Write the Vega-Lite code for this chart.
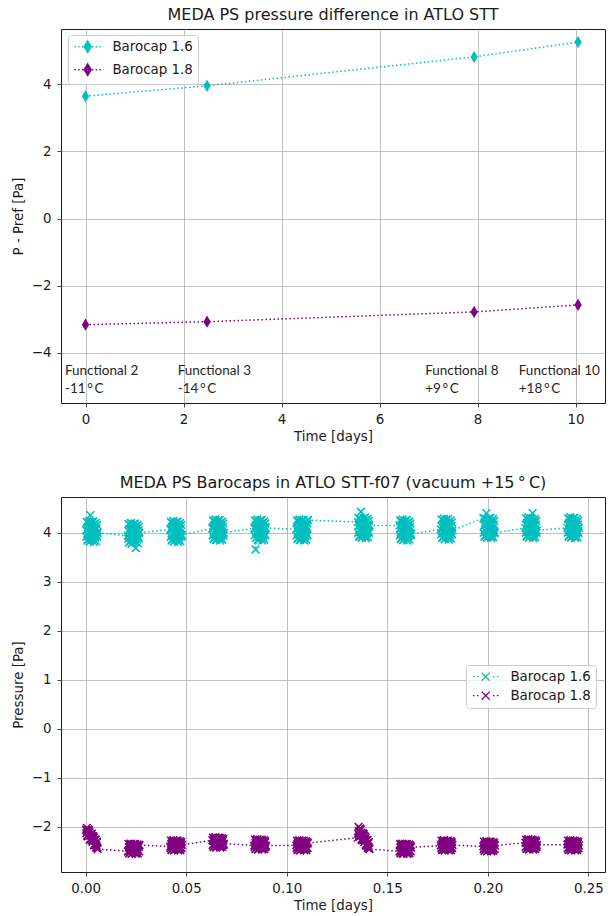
{
"$schema": "https://vega.github.io/schema/vega-lite/v6.json",
"background": "white",
"padding": {"left": 10, "top": 6, "right": 4, "bottom": 4},
"spacing": 30,
"config": {
  "font": "DejaVu Sans",
  "view": {"stroke": "#1a1a1a", "strokeWidth": 1},
  "axis": {"domain": false, "grid": true, "gridColor": "#b0b0b0", "gridWidth": 0.8, "tickColor": "#1a1a1a", "tickSize": 4, "tickWidth": 0.8, "labelFont": "DejaVu Sans", "labelFontSize": 13.4, "labelColor": "#1a1a1a", "labelPadding": 5, "titleFont": "DejaVu Sans", "titleFontSize": 13.4, "titleFontWeight": "normal", "titleColor": "#1a1a1a"},
  "axisY": {"titlePadding": 6, "labelPadding": 6},
  "axisX": {"titlePadding": 4},
  "title": {"fontSize": 16, "fontWeight": "normal", "color": "#1a1a1a", "offset": 6, "font": "DejaVu Sans"},
  "legend": {"labelFont": "DejaVu Sans", "labelFontSize": 13.4, "labelColor": "#1a1a1a", "fillColor": "rgba(255,255,255,0.8)", "strokeColor": "#cccccc", "cornerRadius": 3, "padding": 5, "rowPadding": 4}
},
"resolve": {"scale": {"color": "independent"}, "legend": {"color": "independent"}},
"datasets": {
  "a": [
    {"t":0.0002,"p":4.05},{"t":0.0005,"p":4.22},{"t":0.0008,"p":3.84},{"t":0.0011,"p":4.12},{"t":0.0014,"p":3.94},{"t":0.0017,"p":4.24},{"t":0.0020,"p":3.82},{"t":0.0023,"p":4.36},{"t":0.0026,"p":4.18},{"t":0.0029,"p":3.88},{"t":0.0032,"p":4.14},{"t":0.0035,"p":3.98},{"t":0.0038,"p":4.23},{"t":0.0041,"p":3.81},{"t":0.0044,"p":4.08},{"t":0.0047,"p":3.90},{"t":0.0050,"p":4.20},{"t":0.0053,"p":3.94},{"t":0.0056,"p":4.16},{"t":0.0059,"p":4.00},
    {"t":0.0210,"p":3.94},{"t":0.0213,"p":4.18},{"t":0.0216,"p":3.80},{"t":0.0219,"p":4.08},{"t":0.0222,"p":3.90},{"t":0.0225,"p":4.20},{"t":0.0228,"p":3.78},{"t":0.0231,"p":4.00},{"t":0.0234,"p":4.14},{"t":0.0237,"p":3.84},{"t":0.0240,"p":4.10},{"t":0.0243,"p":3.94},{"t":0.0246,"p":4.19},{"t":0.0249,"p":3.69},{"t":0.0252,"p":4.04},{"t":0.0255,"p":3.86},{"t":0.0258,"p":4.16},{"t":0.0261,"p":3.90},{"t":0.0264,"p":4.12},{"t":0.0267,"p":4.00},
    {"t":0.0421,"p":4.07},{"t":0.0424,"p":4.22},{"t":0.0427,"p":3.84},{"t":0.0430,"p":4.12},{"t":0.0433,"p":3.94},{"t":0.0436,"p":4.24},{"t":0.0439,"p":3.82},{"t":0.0442,"p":4.04},{"t":0.0445,"p":4.18},{"t":0.0448,"p":3.88},{"t":0.0451,"p":4.14},{"t":0.0454,"p":3.98},{"t":0.0457,"p":4.23},{"t":0.0460,"p":3.81},{"t":0.0463,"p":4.08},{"t":0.0466,"p":3.90},{"t":0.0469,"p":4.20},{"t":0.0472,"p":3.94},{"t":0.0475,"p":4.16},{"t":0.0478,"p":3.96},
    {"t":0.0630,"p":4.09},{"t":0.0633,"p":4.25},{"t":0.0636,"p":3.87},{"t":0.0639,"p":4.15},{"t":0.0642,"p":3.97},{"t":0.0645,"p":4.27},{"t":0.0648,"p":3.85},{"t":0.0651,"p":4.07},{"t":0.0654,"p":4.21},{"t":0.0657,"p":3.91},{"t":0.0660,"p":4.17},{"t":0.0663,"p":4.01},{"t":0.0666,"p":4.26},{"t":0.0669,"p":3.84},{"t":0.0672,"p":4.11},{"t":0.0675,"p":3.93},{"t":0.0678,"p":4.23},{"t":0.0681,"p":3.97},{"t":0.0684,"p":4.19},{"t":0.0687,"p":4.00},
    {"t":0.0839,"p":4.09},{"t":0.0842,"p":4.25},{"t":0.0845,"p":3.66},{"t":0.0848,"p":4.15},{"t":0.0851,"p":3.97},{"t":0.0854,"p":4.27},{"t":0.0857,"p":3.85},{"t":0.0860,"p":4.07},{"t":0.0863,"p":4.21},{"t":0.0866,"p":3.91},{"t":0.0869,"p":4.17},{"t":0.0872,"p":4.01},{"t":0.0875,"p":4.26},{"t":0.0878,"p":3.84},{"t":0.0881,"p":4.11},{"t":0.0884,"p":3.93},{"t":0.0887,"p":4.23},{"t":0.0890,"p":3.97},{"t":0.0893,"p":4.19},{"t":0.0896,"p":4.10},
    {"t":0.1048,"p":4.07},{"t":0.1051,"p":4.25},{"t":0.1054,"p":3.87},{"t":0.1057,"p":4.15},{"t":0.1060,"p":3.97},{"t":0.1063,"p":4.27},{"t":0.1066,"p":3.85},{"t":0.1069,"p":4.07},{"t":0.1072,"p":4.21},{"t":0.1075,"p":3.91},{"t":0.1078,"p":4.17},{"t":0.1081,"p":4.01},{"t":0.1084,"p":4.26},{"t":0.1087,"p":3.84},{"t":0.1090,"p":4.11},{"t":0.1093,"p":3.93},{"t":0.1096,"p":4.23},{"t":0.1099,"p":3.97},{"t":0.1102,"p":4.19},{"t":0.1105,"p":4.26},
    {"t":0.1354,"p":4.22},{"t":0.1357,"p":4.30},{"t":0.1360,"p":3.92},{"t":0.1363,"p":4.20},{"t":0.1366,"p":4.02},{"t":0.1369,"p":4.43},{"t":0.1372,"p":3.90},{"t":0.1375,"p":4.12},{"t":0.1378,"p":4.26},{"t":0.1381,"p":3.96},{"t":0.1384,"p":4.22},{"t":0.1387,"p":4.06},{"t":0.1390,"p":4.31},{"t":0.1393,"p":3.89},{"t":0.1396,"p":4.16},{"t":0.1399,"p":3.98},{"t":0.1402,"p":4.28},{"t":0.1405,"p":4.02},{"t":0.1408,"p":4.24},{"t":0.1411,"p":4.15},
    {"t":0.1561,"p":4.15},{"t":0.1564,"p":4.25},{"t":0.1567,"p":3.87},{"t":0.1570,"p":4.15},{"t":0.1573,"p":3.97},{"t":0.1576,"p":4.27},{"t":0.1579,"p":3.85},{"t":0.1582,"p":4.07},{"t":0.1585,"p":4.21},{"t":0.1588,"p":3.91},{"t":0.1591,"p":4.17},{"t":0.1594,"p":4.01},{"t":0.1597,"p":4.26},{"t":0.1600,"p":3.84},{"t":0.1603,"p":4.11},{"t":0.1606,"p":3.93},{"t":0.1609,"p":4.23},{"t":0.1612,"p":3.97},{"t":0.1615,"p":4.19},{"t":0.1618,"p":3.98},
    {"t":0.1767,"p":4.07},{"t":0.1770,"p":4.27},{"t":0.1773,"p":3.89},{"t":0.1776,"p":4.17},{"t":0.1779,"p":3.99},{"t":0.1782,"p":4.29},{"t":0.1785,"p":3.87},{"t":0.1788,"p":4.09},{"t":0.1791,"p":4.23},{"t":0.1794,"p":3.93},{"t":0.1797,"p":4.19},{"t":0.1800,"p":4.03},{"t":0.1803,"p":4.28},{"t":0.1806,"p":3.86},{"t":0.1809,"p":4.13},{"t":0.1812,"p":3.95},{"t":0.1815,"p":4.25},{"t":0.1818,"p":3.99},{"t":0.1821,"p":4.21},{"t":0.1824,"p":4.05},
    {"t":0.1978,"p":4.30},{"t":0.1981,"p":4.30},{"t":0.1984,"p":3.92},{"t":0.1987,"p":4.20},{"t":0.1990,"p":4.02},{"t":0.1993,"p":4.40},{"t":0.1996,"p":3.90},{"t":0.1999,"p":4.12},{"t":0.2002,"p":4.26},{"t":0.2005,"p":3.96},{"t":0.2008,"p":4.22},{"t":0.2011,"p":4.06},{"t":0.2014,"p":4.31},{"t":0.2017,"p":3.89},{"t":0.2020,"p":4.16},{"t":0.2023,"p":3.98},{"t":0.2026,"p":4.28},{"t":0.2029,"p":4.02},{"t":0.2032,"p":4.24},{"t":0.2035,"p":4.00},
    {"t":0.2187,"p":4.10},{"t":0.2190,"p":4.30},{"t":0.2193,"p":3.92},{"t":0.2196,"p":4.20},{"t":0.2199,"p":4.02},{"t":0.2202,"p":4.32},{"t":0.2205,"p":3.90},{"t":0.2208,"p":4.12},{"t":0.2211,"p":4.26},{"t":0.2214,"p":3.96},{"t":0.2217,"p":4.22},{"t":0.2220,"p":4.06},{"t":0.2223,"p":4.40},{"t":0.2226,"p":3.89},{"t":0.2229,"p":4.16},{"t":0.2232,"p":3.98},{"t":0.2235,"p":4.28},{"t":0.2238,"p":4.02},{"t":0.2241,"p":4.24},{"t":0.2244,"p":4.05},
    {"t":0.2396,"p":4.10},{"t":0.2399,"p":4.30},{"t":0.2402,"p":3.92},{"t":0.2405,"p":4.20},{"t":0.2408,"p":4.02},{"t":0.2411,"p":4.32},{"t":0.2414,"p":3.90},{"t":0.2417,"p":4.12},{"t":0.2420,"p":4.26},{"t":0.2423,"p":3.96},{"t":0.2426,"p":4.22},{"t":0.2429,"p":4.06},{"t":0.2432,"p":4.31},{"t":0.2435,"p":3.89},{"t":0.2438,"p":4.16},{"t":0.2441,"p":3.98},{"t":0.2444,"p":4.28},{"t":0.2447,"p":4.02},{"t":0.2450,"p":4.24},{"t":0.2453,"p":4.10},
    {"t":0.00035,"p":3.92},{"t":0.00065,"p":4.07},{"t":0.00095,"p":3.86},{"t":0.00125,"p":4.20},{"t":0.00155,"p":4.00},{"t":0.00185,"p":4.15},{"t":0.00215,"p":3.83},{"t":0.00245,"p":4.11},{"t":0.00275,"p":3.96},{"t":0.00305,"p":4.22},{"t":0.00335,"p":3.90},{"t":0.00365,"p":4.05},{"t":0.00395,"p":4.17},{"t":0.00425,"p":3.85},{"t":0.00455,"p":4.13},{"t":0.00485,"p":3.99},{"t":0.00515,"p":3.83},{"t":0.00545,"p":4.09},{"t":0.00575,"p":3.92},
    {"t":0.02115,"p":3.88},{"t":0.02145,"p":4.03},{"t":0.02175,"p":3.82},{"t":0.02205,"p":4.16},{"t":0.02235,"p":3.96},{"t":0.02265,"p":4.11},{"t":0.02295,"p":3.79},{"t":0.02325,"p":4.07},{"t":0.02355,"p":3.92},{"t":0.02385,"p":4.18},{"t":0.02415,"p":3.86},{"t":0.02445,"p":4.01},{"t":0.02475,"p":4.13},{"t":0.02505,"p":3.81},{"t":0.02535,"p":4.09},{"t":0.02565,"p":3.95},{"t":0.02595,"p":3.79},{"t":0.02625,"p":4.05},{"t":0.02655,"p":3.88},
    {"t":0.04225,"p":3.92},{"t":0.04255,"p":4.07},{"t":0.04285,"p":3.86},{"t":0.04315,"p":4.20},{"t":0.04345,"p":4.00},{"t":0.04375,"p":4.15},{"t":0.04405,"p":3.83},{"t":0.04435,"p":4.11},{"t":0.04465,"p":3.96},{"t":0.04495,"p":4.22},{"t":0.04525,"p":3.90},{"t":0.04555,"p":4.05},{"t":0.04585,"p":4.17},{"t":0.04615,"p":3.85},{"t":0.04645,"p":4.13},{"t":0.04675,"p":3.99},{"t":0.04705,"p":3.83},{"t":0.04735,"p":4.09},{"t":0.04765,"p":3.92},
    {"t":0.06315,"p":3.95},{"t":0.06345,"p":4.10},{"t":0.06375,"p":3.89},{"t":0.06405,"p":4.23},{"t":0.06435,"p":4.03},{"t":0.06465,"p":4.18},{"t":0.06495,"p":3.86},{"t":0.06525,"p":4.14},{"t":0.06555,"p":3.99},{"t":0.06585,"p":4.25},{"t":0.06615,"p":3.93},{"t":0.06645,"p":4.08},{"t":0.06675,"p":4.20},{"t":0.06705,"p":3.88},{"t":0.06735,"p":4.16},{"t":0.06765,"p":4.02},{"t":0.06795,"p":3.86},{"t":0.06825,"p":4.12},{"t":0.06855,"p":3.95},
    {"t":0.08405,"p":3.95},{"t":0.08435,"p":4.10},{"t":0.08465,"p":3.89},{"t":0.08495,"p":4.23},{"t":0.08525,"p":4.03},{"t":0.08555,"p":4.18},{"t":0.08585,"p":3.86},{"t":0.08615,"p":4.14},{"t":0.08645,"p":3.99},{"t":0.08675,"p":4.25},{"t":0.08705,"p":3.93},{"t":0.08735,"p":4.08},{"t":0.08765,"p":4.20},{"t":0.08795,"p":3.88},{"t":0.08825,"p":4.16},{"t":0.08855,"p":4.02},{"t":0.08885,"p":3.86},{"t":0.08915,"p":4.12},{"t":0.08945,"p":3.95},
    {"t":0.10495,"p":3.95},{"t":0.10525,"p":4.10},{"t":0.10555,"p":3.89},{"t":0.10585,"p":4.23},{"t":0.10615,"p":4.03},{"t":0.10645,"p":4.18},{"t":0.10675,"p":3.86},{"t":0.10705,"p":4.14},{"t":0.10735,"p":3.99},{"t":0.10765,"p":4.25},{"t":0.10795,"p":3.93},{"t":0.10825,"p":4.08},{"t":0.10855,"p":4.20},{"t":0.10885,"p":3.88},{"t":0.10915,"p":4.16},{"t":0.10945,"p":4.02},{"t":0.10975,"p":3.86},{"t":0.11005,"p":4.12},{"t":0.11035,"p":3.95},
    {"t":0.13555,"p":4.00},{"t":0.13585,"p":4.15},{"t":0.13615,"p":3.94},{"t":0.13645,"p":4.28},{"t":0.13675,"p":4.08},{"t":0.13705,"p":4.23},{"t":0.13735,"p":3.91},{"t":0.13765,"p":4.19},{"t":0.13795,"p":4.04},{"t":0.13825,"p":4.30},{"t":0.13855,"p":3.98},{"t":0.13885,"p":4.13},{"t":0.13915,"p":4.25},{"t":0.13945,"p":3.93},{"t":0.13975,"p":4.21},{"t":0.14005,"p":4.07},{"t":0.14035,"p":3.91},{"t":0.14065,"p":4.17},{"t":0.14095,"p":4.00},
    {"t":0.15625,"p":3.95},{"t":0.15655,"p":4.10},{"t":0.15685,"p":3.89},{"t":0.15715,"p":4.23},{"t":0.15745,"p":4.03},{"t":0.15775,"p":4.18},{"t":0.15805,"p":3.86},{"t":0.15835,"p":4.14},{"t":0.15865,"p":3.99},{"t":0.15895,"p":4.25},{"t":0.15925,"p":3.93},{"t":0.15955,"p":4.08},{"t":0.15985,"p":4.20},{"t":0.16015,"p":3.88},{"t":0.16045,"p":4.16},{"t":0.16075,"p":4.02},{"t":0.16105,"p":3.86},{"t":0.16135,"p":4.12},{"t":0.16165,"p":3.95},
    {"t":0.17685,"p":3.97},{"t":0.17715,"p":4.12},{"t":0.17745,"p":3.91},{"t":0.17775,"p":4.25},{"t":0.17805,"p":4.05},{"t":0.17835,"p":4.20},{"t":0.17865,"p":3.88},{"t":0.17895,"p":4.16},{"t":0.17925,"p":4.01},{"t":0.17955,"p":4.27},{"t":0.17985,"p":3.95},{"t":0.18015,"p":4.10},{"t":0.18045,"p":4.22},{"t":0.18075,"p":3.90},{"t":0.18105,"p":4.18},{"t":0.18135,"p":4.04},{"t":0.18165,"p":3.88},{"t":0.18195,"p":4.14},{"t":0.18225,"p":3.97},
    {"t":0.19795,"p":4.00},{"t":0.19825,"p":4.15},{"t":0.19855,"p":3.94},{"t":0.19885,"p":4.28},{"t":0.19915,"p":4.08},{"t":0.19945,"p":4.23},{"t":0.19975,"p":3.91},{"t":0.20005,"p":4.19},{"t":0.20035,"p":4.04},{"t":0.20065,"p":4.30},{"t":0.20095,"p":3.98},{"t":0.20125,"p":4.13},{"t":0.20155,"p":4.25},{"t":0.20185,"p":3.93},{"t":0.20215,"p":4.21},{"t":0.20245,"p":4.07},{"t":0.20275,"p":3.91},{"t":0.20305,"p":4.17},{"t":0.20335,"p":4.00},
    {"t":0.21885,"p":4.00},{"t":0.21915,"p":4.15},{"t":0.21945,"p":3.94},{"t":0.21975,"p":4.28},{"t":0.22005,"p":4.08},{"t":0.22035,"p":4.23},{"t":0.22065,"p":3.91},{"t":0.22095,"p":4.19},{"t":0.22125,"p":4.04},{"t":0.22155,"p":4.30},{"t":0.22185,"p":3.98},{"t":0.22215,"p":4.13},{"t":0.22245,"p":4.25},{"t":0.22275,"p":3.93},{"t":0.22305,"p":4.21},{"t":0.22335,"p":4.07},{"t":0.22365,"p":3.91},{"t":0.22395,"p":4.17},{"t":0.22425,"p":4.00},
    {"t":0.23975,"p":4.00},{"t":0.24005,"p":4.15},{"t":0.24035,"p":3.94},{"t":0.24065,"p":4.28},{"t":0.24095,"p":4.08},{"t":0.24125,"p":4.23},{"t":0.24155,"p":3.91},{"t":0.24185,"p":4.19},{"t":0.24215,"p":4.04},{"t":0.24245,"p":4.30},{"t":0.24275,"p":3.98},{"t":0.24305,"p":4.13},{"t":0.24335,"p":4.25},{"t":0.24365,"p":3.93},{"t":0.24395,"p":4.21},{"t":0.24425,"p":4.07},{"t":0.24455,"p":3.91},{"t":0.24485,"p":4.17},{"t":0.24515,"p":4.00}
  ],
  "b": [
    {"t":0.0002,"p":-2.06},{"t":0.0005,"p":-2.02},{"t":0.0008,"p":-2.18},{"t":0.0011,"p":-2.09},{"t":0.0014,"p":-2.17},{"t":0.0017,"p":-2.07},{"t":0.0020,"p":-2.26},{"t":0.0023,"p":-2.18},{"t":0.0026,"p":-2.15},{"t":0.0029,"p":-2.28},{"t":0.0032,"p":-2.19},{"t":0.0035,"p":-2.27},{"t":0.0038,"p":-2.19},{"t":0.0041,"p":-2.37},{"t":0.0044,"p":-2.28},{"t":0.0047,"p":-2.37},{"t":0.0050,"p":-2.26},{"t":0.0053,"p":-2.38},{"t":0.0056,"p":-2.30},{"t":0.0059,"p":-2.45},
    {"t":0.0210,"p":-2.50},{"t":0.0213,"p":-2.35},{"t":0.0216,"p":-2.54},{"t":0.0219,"p":-2.40},{"t":0.0222,"p":-2.49},{"t":0.0225,"p":-2.34},{"t":0.0228,"p":-2.55},{"t":0.0231,"p":-2.44},{"t":0.0234,"p":-2.37},{"t":0.0237,"p":-2.52},{"t":0.0240,"p":-2.39},{"t":0.0243,"p":-2.47},{"t":0.0246,"p":-2.35},{"t":0.0249,"p":-2.55},{"t":0.0252,"p":-2.42},{"t":0.0255,"p":-2.51},{"t":0.0258,"p":-2.36},{"t":0.0261,"p":-2.49},{"t":0.0264,"p":-2.38},{"t":0.0267,"p":-2.37},
    {"t":0.0421,"p":-2.40},{"t":0.0424,"p":-2.28},{"t":0.0427,"p":-2.47},{"t":0.0430,"p":-2.33},{"t":0.0433,"p":-2.42},{"t":0.0436,"p":-2.27},{"t":0.0439,"p":-2.48},{"t":0.0442,"p":-2.37},{"t":0.0445,"p":-2.30},{"t":0.0448,"p":-2.45},{"t":0.0451,"p":-2.32},{"t":0.0454,"p":-2.40},{"t":0.0457,"p":-2.28},{"t":0.0460,"p":-2.48},{"t":0.0463,"p":-2.35},{"t":0.0466,"p":-2.44},{"t":0.0469,"p":-2.29},{"t":0.0472,"p":-2.42},{"t":0.0475,"p":-2.31},{"t":0.0478,"p":-2.37},
    {"t":0.0630,"p":-2.27},{"t":0.0633,"p":-2.22},{"t":0.0636,"p":-2.41},{"t":0.0639,"p":-2.27},{"t":0.0642,"p":-2.36},{"t":0.0645,"p":-2.21},{"t":0.0648,"p":-2.42},{"t":0.0651,"p":-2.31},{"t":0.0654,"p":-2.24},{"t":0.0657,"p":-2.39},{"t":0.0660,"p":-2.26},{"t":0.0663,"p":-2.34},{"t":0.0666,"p":-2.22},{"t":0.0669,"p":-2.42},{"t":0.0672,"p":-2.29},{"t":0.0675,"p":-2.38},{"t":0.0678,"p":-2.23},{"t":0.0681,"p":-2.36},{"t":0.0684,"p":-2.25},{"t":0.0687,"p":-2.34},
    {"t":0.0839,"p":-2.38},{"t":0.0842,"p":-2.26},{"t":0.0845,"p":-2.45},{"t":0.0848,"p":-2.31},{"t":0.0851,"p":-2.40},{"t":0.0854,"p":-2.25},{"t":0.0857,"p":-2.46},{"t":0.0860,"p":-2.35},{"t":0.0863,"p":-2.28},{"t":0.0866,"p":-2.43},{"t":0.0869,"p":-2.30},{"t":0.0872,"p":-2.38},{"t":0.0875,"p":-2.26},{"t":0.0878,"p":-2.46},{"t":0.0881,"p":-2.33},{"t":0.0884,"p":-2.42},{"t":0.0887,"p":-2.27},{"t":0.0890,"p":-2.40},{"t":0.0893,"p":-2.29},{"t":0.0896,"p":-2.38},
    {"t":0.1048,"p":-2.38},{"t":0.1051,"p":-2.28},{"t":0.1054,"p":-2.47},{"t":0.1057,"p":-2.33},{"t":0.1060,"p":-2.42},{"t":0.1063,"p":-2.27},{"t":0.1066,"p":-2.48},{"t":0.1069,"p":-2.37},{"t":0.1072,"p":-2.30},{"t":0.1075,"p":-2.45},{"t":0.1078,"p":-2.32},{"t":0.1081,"p":-2.40},{"t":0.1084,"p":-2.28},{"t":0.1087,"p":-2.48},{"t":0.1090,"p":-2.35},{"t":0.1093,"p":-2.44},{"t":0.1096,"p":-2.29},{"t":0.1099,"p":-2.42},{"t":0.1102,"p":-2.31},{"t":0.1105,"p":-2.33},
    {"t":0.1354,"p":-2.22},{"t":0.1357,"p":-2.00},{"t":0.1360,"p":-2.17},{"t":0.1363,"p":-2.08},{"t":0.1366,"p":-2.16},{"t":0.1369,"p":-2.05},{"t":0.1372,"p":-2.25},{"t":0.1375,"p":-2.17},{"t":0.1378,"p":-2.13},{"t":0.1381,"p":-2.27},{"t":0.1384,"p":-2.18},{"t":0.1387,"p":-2.27},{"t":0.1390,"p":-2.20},{"t":0.1393,"p":-2.36},{"t":0.1396,"p":-2.27},{"t":0.1399,"p":-2.38},{"t":0.1402,"p":-2.27},{"t":0.1405,"p":-2.40},{"t":0.1408,"p":-2.31},{"t":0.1411,"p":-2.45},
    {"t":0.1561,"p":-2.50},{"t":0.1564,"p":-2.35},{"t":0.1567,"p":-2.54},{"t":0.1570,"p":-2.40},{"t":0.1573,"p":-2.49},{"t":0.1576,"p":-2.34},{"t":0.1579,"p":-2.55},{"t":0.1582,"p":-2.44},{"t":0.1585,"p":-2.37},{"t":0.1588,"p":-2.52},{"t":0.1591,"p":-2.39},{"t":0.1594,"p":-2.47},{"t":0.1597,"p":-2.35},{"t":0.1600,"p":-2.55},{"t":0.1603,"p":-2.42},{"t":0.1606,"p":-2.51},{"t":0.1609,"p":-2.36},{"t":0.1612,"p":-2.49},{"t":0.1615,"p":-2.38},{"t":0.1618,"p":-2.42},
    {"t":0.1767,"p":-2.38},{"t":0.1770,"p":-2.28},{"t":0.1773,"p":-2.47},{"t":0.1776,"p":-2.33},{"t":0.1779,"p":-2.42},{"t":0.1782,"p":-2.27},{"t":0.1785,"p":-2.48},{"t":0.1788,"p":-2.37},{"t":0.1791,"p":-2.30},{"t":0.1794,"p":-2.45},{"t":0.1797,"p":-2.32},{"t":0.1800,"p":-2.40},{"t":0.1803,"p":-2.28},{"t":0.1806,"p":-2.48},{"t":0.1809,"p":-2.35},{"t":0.1812,"p":-2.44},{"t":0.1815,"p":-2.29},{"t":0.1818,"p":-2.42},{"t":0.1821,"p":-2.31},{"t":0.1824,"p":-2.37},
    {"t":0.1978,"p":-2.40},{"t":0.1981,"p":-2.30},{"t":0.1984,"p":-2.49},{"t":0.1987,"p":-2.35},{"t":0.1990,"p":-2.44},{"t":0.1993,"p":-2.29},{"t":0.1996,"p":-2.50},{"t":0.1999,"p":-2.39},{"t":0.2002,"p":-2.32},{"t":0.2005,"p":-2.47},{"t":0.2008,"p":-2.34},{"t":0.2011,"p":-2.42},{"t":0.2014,"p":-2.30},{"t":0.2017,"p":-2.50},{"t":0.2020,"p":-2.37},{"t":0.2023,"p":-2.46},{"t":0.2026,"p":-2.31},{"t":0.2029,"p":-2.44},{"t":0.2032,"p":-2.33},{"t":0.2035,"p":-2.38},
    {"t":0.2187,"p":-2.32},{"t":0.2190,"p":-2.26},{"t":0.2193,"p":-2.45},{"t":0.2196,"p":-2.31},{"t":0.2199,"p":-2.40},{"t":0.2202,"p":-2.25},{"t":0.2205,"p":-2.46},{"t":0.2208,"p":-2.35},{"t":0.2211,"p":-2.28},{"t":0.2214,"p":-2.43},{"t":0.2217,"p":-2.30},{"t":0.2220,"p":-2.38},{"t":0.2223,"p":-2.26},{"t":0.2226,"p":-2.46},{"t":0.2229,"p":-2.33},{"t":0.2232,"p":-2.42},{"t":0.2235,"p":-2.27},{"t":0.2238,"p":-2.40},{"t":0.2241,"p":-2.29},{"t":0.2244,"p":-2.37},
    {"t":0.2396,"p":-2.36},{"t":0.2399,"p":-2.28},{"t":0.2402,"p":-2.47},{"t":0.2405,"p":-2.33},{"t":0.2408,"p":-2.42},{"t":0.2411,"p":-2.27},{"t":0.2414,"p":-2.48},{"t":0.2417,"p":-2.37},{"t":0.2420,"p":-2.30},{"t":0.2423,"p":-2.45},{"t":0.2426,"p":-2.32},{"t":0.2429,"p":-2.40},{"t":0.2432,"p":-2.28},{"t":0.2435,"p":-2.48},{"t":0.2438,"p":-2.35},{"t":0.2441,"p":-2.44},{"t":0.2444,"p":-2.29},{"t":0.2447,"p":-2.42},{"t":0.2450,"p":-2.31},{"t":0.2453,"p":-2.38},
    {"t":0.00035,"p":-2.13},{"t":0.00065,"p":-2.08},{"t":0.00095,"p":-2.19},{"t":0.00125,"p":-2.05},{"t":0.00155,"p":-2.16},{"t":0.00185,"p":-2.11},{"t":0.00215,"p":-2.26},{"t":0.00245,"p":-2.16},{"t":0.00275,"p":-2.24},{"t":0.00305,"p":-2.14},{"t":0.00335,"p":-2.30},{"t":0.00365,"p":-2.24},{"t":0.00395,"p":-2.22},{"t":0.00425,"p":-2.37},{"t":0.00455,"p":-2.26},{"t":0.00485,"p":-2.33},{"t":0.00515,"p":-2.42},{"t":0.00545,"p":-2.32},{"t":0.00575,"p":-2.42},
    {"t":0.02115,"p":-2.50},{"t":0.02145,"p":-2.42},{"t":0.02175,"p":-2.53},{"t":0.02205,"p":-2.36},{"t":0.02235,"p":-2.46},{"t":0.02265,"p":-2.39},{"t":0.02295,"p":-2.54},{"t":0.02325,"p":-2.41},{"t":0.02355,"p":-2.48},{"t":0.02385,"p":-2.35},{"t":0.02415,"p":-2.51},{"t":0.02445,"p":-2.43},{"t":0.02475,"p":-2.38},{"t":0.02505,"p":-2.53},{"t":0.02535,"p":-2.40},{"t":0.02565,"p":-2.46},{"t":0.02595,"p":-2.54},{"t":0.02625,"p":-2.41},{"t":0.02655,"p":-2.50},
    {"t":0.04225,"p":-2.43},{"t":0.04255,"p":-2.35},{"t":0.04285,"p":-2.46},{"t":0.04315,"p":-2.29},{"t":0.04345,"p":-2.39},{"t":0.04375,"p":-2.32},{"t":0.04405,"p":-2.47},{"t":0.04435,"p":-2.34},{"t":0.04465,"p":-2.41},{"t":0.04495,"p":-2.28},{"t":0.04525,"p":-2.44},{"t":0.04555,"p":-2.36},{"t":0.04585,"p":-2.31},{"t":0.04615,"p":-2.46},{"t":0.04645,"p":-2.33},{"t":0.04675,"p":-2.39},{"t":0.04705,"p":-2.47},{"t":0.04735,"p":-2.34},{"t":0.04765,"p":-2.43},
    {"t":0.06315,"p":-2.37},{"t":0.06345,"p":-2.29},{"t":0.06375,"p":-2.40},{"t":0.06405,"p":-2.23},{"t":0.06435,"p":-2.33},{"t":0.06465,"p":-2.26},{"t":0.06495,"p":-2.41},{"t":0.06525,"p":-2.28},{"t":0.06555,"p":-2.35},{"t":0.06585,"p":-2.22},{"t":0.06615,"p":-2.38},{"t":0.06645,"p":-2.30},{"t":0.06675,"p":-2.25},{"t":0.06705,"p":-2.40},{"t":0.06735,"p":-2.27},{"t":0.06765,"p":-2.33},{"t":0.06795,"p":-2.41},{"t":0.06825,"p":-2.28},{"t":0.06855,"p":-2.37},
    {"t":0.08405,"p":-2.41},{"t":0.08435,"p":-2.33},{"t":0.08465,"p":-2.44},{"t":0.08495,"p":-2.27},{"t":0.08525,"p":-2.37},{"t":0.08555,"p":-2.30},{"t":0.08585,"p":-2.45},{"t":0.08615,"p":-2.32},{"t":0.08645,"p":-2.39},{"t":0.08675,"p":-2.26},{"t":0.08705,"p":-2.42},{"t":0.08735,"p":-2.34},{"t":0.08765,"p":-2.29},{"t":0.08795,"p":-2.44},{"t":0.08825,"p":-2.31},{"t":0.08855,"p":-2.37},{"t":0.08885,"p":-2.45},{"t":0.08915,"p":-2.32},{"t":0.08945,"p":-2.41},
    {"t":0.10495,"p":-2.43},{"t":0.10525,"p":-2.35},{"t":0.10555,"p":-2.46},{"t":0.10585,"p":-2.29},{"t":0.10615,"p":-2.39},{"t":0.10645,"p":-2.32},{"t":0.10675,"p":-2.47},{"t":0.10705,"p":-2.34},{"t":0.10735,"p":-2.41},{"t":0.10765,"p":-2.28},{"t":0.10795,"p":-2.44},{"t":0.10825,"p":-2.36},{"t":0.10855,"p":-2.31},{"t":0.10885,"p":-2.46},{"t":0.10915,"p":-2.33},{"t":0.10945,"p":-2.39},{"t":0.10975,"p":-2.47},{"t":0.11005,"p":-2.34},{"t":0.11035,"p":-2.43},
    {"t":0.13555,"p":-2.14},{"t":0.13585,"p":-2.09},{"t":0.13615,"p":-2.20},{"t":0.13645,"p":-2.03},{"t":0.13675,"p":-2.17},{"t":0.13705,"p":-2.12},{"t":0.13735,"p":-2.27},{"t":0.13765,"p":-2.17},{"t":0.13795,"p":-2.25},{"t":0.13825,"p":-2.15},{"t":0.13855,"p":-2.31},{"t":0.13885,"p":-2.25},{"t":0.13915,"p":-2.23},{"t":0.13945,"p":-2.38},{"t":0.13975,"p":-2.27},{"t":0.14005,"p":-2.34},{"t":0.14035,"p":-2.43},{"t":0.14065,"p":-2.33},{"t":0.14095,"p":-2.43},
    {"t":0.15625,"p":-2.50},{"t":0.15655,"p":-2.42},{"t":0.15685,"p":-2.53},{"t":0.15715,"p":-2.36},{"t":0.15745,"p":-2.46},{"t":0.15775,"p":-2.39},{"t":0.15805,"p":-2.54},{"t":0.15835,"p":-2.41},{"t":0.15865,"p":-2.48},{"t":0.15895,"p":-2.35},{"t":0.15925,"p":-2.51},{"t":0.15955,"p":-2.43},{"t":0.15985,"p":-2.38},{"t":0.16015,"p":-2.53},{"t":0.16045,"p":-2.40},{"t":0.16075,"p":-2.46},{"t":0.16105,"p":-2.54},{"t":0.16135,"p":-2.41},{"t":0.16165,"p":-2.50},
    {"t":0.17685,"p":-2.43},{"t":0.17715,"p":-2.35},{"t":0.17745,"p":-2.46},{"t":0.17775,"p":-2.29},{"t":0.17805,"p":-2.39},{"t":0.17835,"p":-2.32},{"t":0.17865,"p":-2.47},{"t":0.17895,"p":-2.34},{"t":0.17925,"p":-2.41},{"t":0.17955,"p":-2.28},{"t":0.17985,"p":-2.44},{"t":0.18015,"p":-2.36},{"t":0.18045,"p":-2.31},{"t":0.18075,"p":-2.46},{"t":0.18105,"p":-2.33},{"t":0.18135,"p":-2.39},{"t":0.18165,"p":-2.47},{"t":0.18195,"p":-2.34},{"t":0.18225,"p":-2.43},
    {"t":0.19795,"p":-2.45},{"t":0.19825,"p":-2.37},{"t":0.19855,"p":-2.48},{"t":0.19885,"p":-2.31},{"t":0.19915,"p":-2.41},{"t":0.19945,"p":-2.34},{"t":0.19975,"p":-2.49},{"t":0.20005,"p":-2.36},{"t":0.20035,"p":-2.43},{"t":0.20065,"p":-2.30},{"t":0.20095,"p":-2.46},{"t":0.20125,"p":-2.38},{"t":0.20155,"p":-2.33},{"t":0.20185,"p":-2.48},{"t":0.20215,"p":-2.35},{"t":0.20245,"p":-2.41},{"t":0.20275,"p":-2.49},{"t":0.20305,"p":-2.36},{"t":0.20335,"p":-2.45},
    {"t":0.21885,"p":-2.41},{"t":0.21915,"p":-2.33},{"t":0.21945,"p":-2.44},{"t":0.21975,"p":-2.27},{"t":0.22005,"p":-2.37},{"t":0.22035,"p":-2.30},{"t":0.22065,"p":-2.45},{"t":0.22095,"p":-2.32},{"t":0.22125,"p":-2.39},{"t":0.22155,"p":-2.26},{"t":0.22185,"p":-2.42},{"t":0.22215,"p":-2.34},{"t":0.22245,"p":-2.29},{"t":0.22275,"p":-2.44},{"t":0.22305,"p":-2.31},{"t":0.22335,"p":-2.37},{"t":0.22365,"p":-2.45},{"t":0.22395,"p":-2.32},{"t":0.22425,"p":-2.41},
    {"t":0.23975,"p":-2.43},{"t":0.24005,"p":-2.35},{"t":0.24035,"p":-2.46},{"t":0.24065,"p":-2.29},{"t":0.24095,"p":-2.39},{"t":0.24125,"p":-2.32},{"t":0.24155,"p":-2.47},{"t":0.24185,"p":-2.34},{"t":0.24215,"p":-2.41},{"t":0.24245,"p":-2.28},{"t":0.24275,"p":-2.44},{"t":0.24305,"p":-2.36},{"t":0.24335,"p":-2.31},{"t":0.24365,"p":-2.46},{"t":0.24395,"p":-2.33},{"t":0.24425,"p":-2.39},{"t":0.24455,"p":-2.47},{"t":0.24485,"p":-2.34},{"t":0.24515,"p":-2.43}
  ]
},
"vconcat": [
  {
    "width": 544, "height": 374,
    "title": "MEDA PS pressure difference in ATLO STT",
    "data": {"values": [
      {"s":"Barocap 1.6","t":0,"p":3.64},{"s":"Barocap 1.6","t":2.48,"p":3.95},{"s":"Barocap 1.6","t":7.93,"p":4.81},{"s":"Barocap 1.6","t":10.05,"p":5.25},
      {"s":"Barocap 1.8","t":0,"p":-3.16},{"s":"Barocap 1.8","t":2.48,"p":-3.07},{"s":"Barocap 1.8","t":7.93,"p":-2.78},{"s":"Barocap 1.8","t":10.05,"p":-2.57}
    ]},
    "encoding": {
      "x": {"field": "t", "type": "quantitative", "scale": {"domain": [-0.5, 10.6], "nice": false, "zero": false}, "axis": {"values": [0,2,4,6,8,10], "title": "Time [days]"}},
      "y": {"field": "p", "type": "quantitative", "scale": {"domain": [-5.49, 5.64], "nice": false, "zero": false}, "axis": {"values": [-4,-2,0,2,4], "title": "P - Pref [Pa]"}}
    },
    "layer": [
      {"mark": {"type": "line", "strokeDash": [1.5, 2.5], "strokeWidth": 1.5},
       "encoding": {"color": {"field": "s", "type": "nominal", "scale": {"domain": ["Barocap 1.6","Barocap 1.8"], "range": ["#00bfbf","#800080"]},
         "legend": {"title": null, "orient": "none", "legendX": 7, "legendY": 6,
           "symbolType": "M-2.3,0L-2.05,0M-1.65,0L-1.4,0M-1,0L-0.75,0M0.75,0L1,0M1.4,0L1.65,0M2.05,0L2.3,0M0,-1L0.6,0L0,1L-0.6,0Z",
           "symbolSize": 130, "symbolStrokeWidth": 1.5, "symbolOffset": 8, "labelOffset": 18,
           "labelExpr": "datum.label + '\u00a0\u00a0'",
           "encode": {"symbols": {"update": {"fill": {"signal": "datum.value === 'Barocap 1.6' ? '#00bfbf' : '#800080'"}, "stroke": {"signal": "datum.value === 'Barocap 1.6' ? '#00bfbf' : '#800080'"}, "strokeDash": {"value": [1, 0]}, "opacity": {"value": 1}}}}}}}},
      {"mark": {"type": "point", "shape": "M0,-1L0.6,0L0,1L-0.6,0Z", "filled": true, "size": 150, "opacity": 1},
       "encoding": {"color": {"field": "s", "type": "nominal"}}},
      {"data": {"values": [
        {"t":-0.42,"p":-4.54,"label":"Functional 2"},{"t":-0.42,"p":-5.07,"label":"-11\u2009°\u2009C"},
        {"t":1.88,"p":-4.54,"label":"Functional 3"},{"t":1.88,"p":-5.07,"label":"-14\u2009°\u2009C"},
        {"t":6.93,"p":-4.54,"label":"Functional 8"},{"t":6.93,"p":-5.07,"label":"+9\u2009°\u2009C"},
        {"t":8.84,"p":-4.54,"label":"Functional 10"},{"t":8.84,"p":-5.07,"label":"+18\u2009°\u2009C"}
       ]},
       "mark": {"type": "text", "align": "left", "baseline": "middle", "font": "Lato", "fontSize": 13.5, "color": "#262626"},
       "encoding": {"text": {"field": "label"}}}
    ]
  },
  {
    "width": 544, "height": 375,
    "title": "MEDA PS Barocaps in ATLO STT-f07 (vacuum +15\u2009°\u2009C)",
    "encoding": {
      "x": {"field": "t", "type": "quantitative", "scale": {"domain": [-0.0123, 0.2583], "nice": false, "zero": false}, "axis": {"values": [0,0.05,0.1,0.15,0.2,0.25], "format": ".2f", "title": "Time [days]"}},
      "y": {"field": "p", "type": "quantitative", "scale": {"domain": [-2.92, 4.73], "nice": false, "zero": false}, "axis": {"values": [-2,-1,0,1,2,3,4], "title": "Pressure [Pa]"}}
    },
    "layer": [
      {"data": {"name": "a"}, "mark": {"type": "line", "strokeDash": [1.5, 2.5], "strokeWidth": 1.5},
       "encoding": {"color": {"datum": "Barocap 1.6", "type": "nominal", "scale": {"domain": ["Barocap 1.6","Barocap 1.8"], "range": ["#00bfbf","#800080"]},
         "legend": {"title": null, "orient": "none", "legendX": 405, "legendY": 168,
           "symbolType": "M-3.2,0L-2.8,0M-2.2,0L-1.8,0M1.8,0L2.2,0M2.8,0L3.2,0M-1,-1L1,1M-1,1L1,-1",
           "symbolSize": 64, "symbolStrokeWidth": 1.3, "symbolOffset": 8, "labelOffset": 18,
           "labelExpr": "datum.label + '\u00a0'",
           "encode": {"symbols": {"update": {"fill": {"value": "transparent"}, "stroke": {"signal": "datum.value === 'Barocap 1.6' ? '#00bfbf' : '#800080'"}, "strokeDash": {"value": [1, 0]}, "opacity": {"value": 1}}}}}}}},
      {"data": {"name": "a"}, "mark": {"type": "point", "shape": "M-1,-1L1,1M-1,1L1,-1", "filled": false, "size": 60, "strokeWidth": 1.6, "opacity": 1},
       "encoding": {"color": {"datum": "Barocap 1.6", "type": "nominal"}}},
      {"data": {"name": "b"}, "mark": {"type": "line", "strokeDash": [1.5, 2.5], "strokeWidth": 1.5},
       "encoding": {"color": {"datum": "Barocap 1.8", "type": "nominal"}}},
      {"data": {"name": "b"}, "mark": {"type": "point", "shape": "M-1,-1L1,1M-1,1L1,-1", "filled": false, "size": 60, "strokeWidth": 1.6, "opacity": 1},
       "encoding": {"color": {"datum": "Barocap 1.8", "type": "nominal"}}}
    ]
  }
]
}
